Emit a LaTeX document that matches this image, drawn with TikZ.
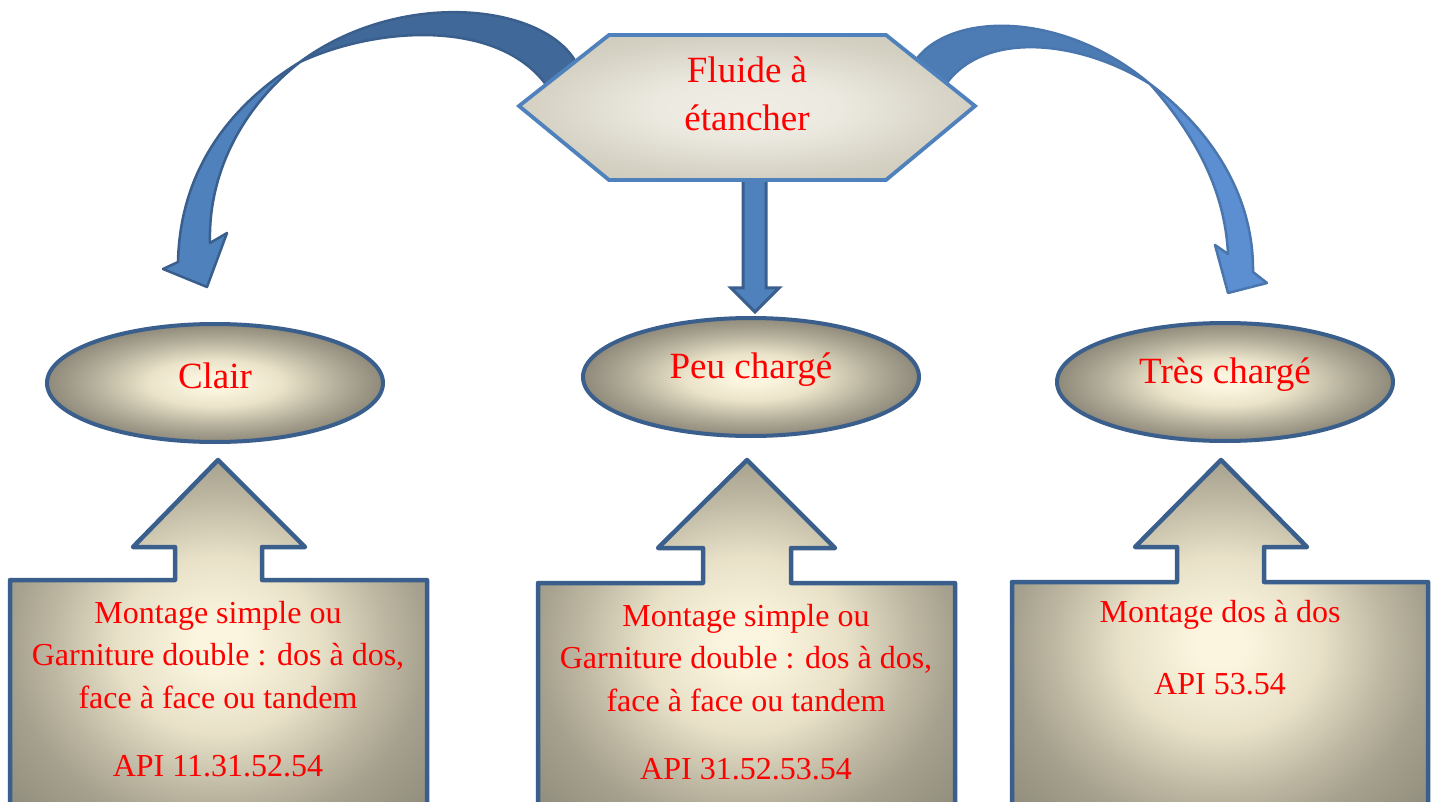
\documentclass[tikz,border=0pt]{standalone}
\usepackage{fontspec}
\setmainfont{Liberation Serif}
\usetikzlibrary{shapes.geometric}
\definecolor{txtred}{HTML}{FF0000}
\definecolor{creamA}{HTML}{FBF5DF}
\definecolor{ellB}{HTML}{EAE3C9}
\definecolor{ellC}{HTML}{B5B09C}
\definecolor{ellD}{HTML}{8E8979}
\definecolor{boxB}{HTML}{E8E1C8}
\definecolor{boxC}{HTML}{BDB7A2}
\definecolor{boxD}{HTML}{A6A18E}
\definecolor{boxE}{HTML}{8A8676}
\definecolor{hexA}{HTML}{F0EDE5}
\definecolor{hexB}{HTML}{ECE9E0}
\definecolor{hexC}{HTML}{D3CFC1}
\definecolor{hexD}{HTML}{CCC8B8}
\definecolor{bordDark}{HTML}{3A5F8C}
\definecolor{bordHex}{HTML}{4F81BD}
\definecolor{arrLight}{HTML}{4F81BD}
\definecolor{arrDarkL}{HTML}{406898}
\definecolor{arrDarkR}{HTML}{4D7BB4}
\definecolor{arrLightR}{HTML}{5B8FD2}
\definecolor{bordR}{HTML}{4A76AE}
\pgfdeclareradialshading{ellshade}{\pgfpoint{0bp}{0bp}}{color(0bp)=(creamA); color(3bp)=(creamA); color(10bp)=(ellB); color(18bp)=(ellC); color(25bp)=(ellD); color(50bp)=(ellD)}
\pgfdeclareradialshading{boxshade}{\pgfpoint{0bp}{0bp}}{color(0bp)=(creamA); color(3bp)=(creamA); color(12bp)=(boxB); color(20bp)=(boxC); color(25bp)=(boxD); color(36bp)=(boxE); color(50bp)=(boxE)}
\pgfdeclareradialshading{hexshade}{\pgfpoint{0bp}{0bp}}{color(0bp)=(hexA); color(10bp)=(hexB); color(25bp)=(hexC); color(36bp)=(hexD); color(50bp)=(hexD)}
\tikzset{
  bigtxt/.style={text=txtred, font=\fontsize{37}{48}\selectfont, align=center, inner sep=0pt},
  boxtxt/.style={text=txtred, font=\fontsize{32}{42.5}\selectfont, align=center, inner sep=0pt},
  ellbox/.style={ellipse, shade, shading=ellshade, draw=bordDark, line width=4pt, minimum width=336pt, minimum height=118pt, inner sep=0pt},
  callout/.style={shade, shading=boxshade, draw=bordDark, line width=4.5pt, line join=round},
  hexbox/.style={shade, shading=hexshade, draw=bordHex, line width=3.8pt, line join=miter},
  curveL/.style={draw=bordDark, line width=2.5pt, line join=round},
  curveR/.style={draw=bordR, line width=2.5pt, line join=round},
  downarr/.style={fill=arrLight, draw=bordDark, line width=3pt, line join=miter}
}
\begin{document}
\begin{tikzpicture}[x=1pt,y=-1pt]
\clip (0,0) rectangle (1437,802);
\fill[white] (0,0) rectangle (1437,802);

% left curved arrow
\path[curveL, fill=arrLight] (300,62) .. controls (230,105) and (180,170) .. (178,262)
  -- (163,269) -- (207,287) -- (227,233) -- (210,243)
  .. controls (208,170) and (245,105) .. (300,62) -- cycle;
\path[curveL, fill=arrDarkL] (577,64) .. controls (545,3) and (400,-12) .. (300,62)
  .. controls (380,25) and (500,20) .. (547,86) -- cycle;

% right curved arrow
\path[curveR, fill=arrLightR] (1150,84) .. controls (1205,125) and (1254,190) .. (1253,272)
  -- (1267,283) -- (1228,293) -- (1215,245) -- (1228,254)
  .. controls (1225,190) and (1195,135) .. (1150,84) -- cycle;
\path[curveR, fill=arrDarkR] (913,64) .. controls (945,12) and (1060,8) .. (1150,84)
  .. controls (1080,40) and (985,30) .. (946,84) -- cycle;

% down arrow
\path[downarr] (743,172) -- (743,288) -- (731,288) -- (755,312) -- (779,288) -- (766,288) -- (766,172) -- cycle;

% hexagon
\path[hexbox] (519,106) -- (609,35) -- (886,35) -- (975,106) -- (886,180) -- (609,180) -- cycle;
\node[bigtxt] (fluide) at (747,94) {Fluide à\\étancher};

% ellipses
\node[ellbox] (e1) at (215,383) {};
\node[ellbox] (e2) at (751,377) {};
\node[ellbox] (e3) at (1225,382) {};
\node[bigtxt] (clair) at (215,376) {Clair};
\node[bigtxt] (peu) at (751,370) {Peu chargé};
\node[bigtxt] (tres) at (1225,375) {Très chargé};

% callout boxes
\path[callout] (10,580) -- (175,580) -- (175,547) -- (133,547) -- (218,460) -- (305,547) -- (262,547) -- (262,580) -- (427,580) -- (427,830) -- (10,830) -- cycle;
\path[callout] (538,583) -- (703,583) -- (703,548) -- (658,548) -- (747,460) -- (835,548) -- (791,548) -- (791,583) -- (955,583) -- (955,830) -- (538,830) -- cycle;
\path[callout] (1012,582) -- (1177,582) -- (1177,547) -- (1135,547) -- (1221,460) -- (1307,547) -- (1264,547) -- (1264,582) -- (1428,582) -- (1428,830) -- (1012,830) -- cycle;

\node[boxtxt] (t1) at (218,655) {Montage simple ou\\Garniture double : dos à dos,\\face à face ou tandem};
\node[boxtxt] (a1) at (218,766) {API 11.31.52.54};
\node[boxtxt] (t2) at (746,658) {Montage simple ou\\Garniture double : dos à dos,\\face à face ou tandem};
\node[boxtxt] (a2) at (746,769) {API 31.52.53.54};
\node[boxtxt] (t3) at (1220,615) {Montage dos à dos};
\node[boxtxt] (a3) at (1220,684) {API 53.54};
\end{tikzpicture}
\end{document}
